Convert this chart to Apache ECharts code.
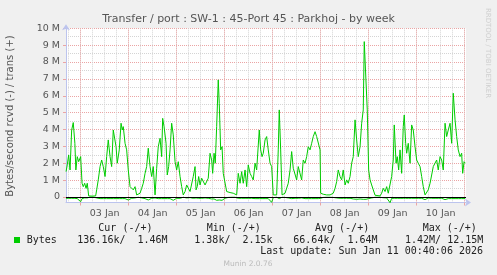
<!DOCTYPE html>
<html><head><meta charset="utf-8">
<script src="https://cdn.jsdelivr.net/npm/echarts@6/dist/echarts.min.js"></script>
<style>html,body{margin:0;padding:0;background:#f0f0f0}#c{width:497px;height:275px}</style>
</head><body><div id="c"></div>
<script>
// x = hours since 03 Jan 00:00, values in M bytes/second
const hours = [-7.3,-6.7,-6.0,-5.3,-4.5,-3.7,-2.9,-2.4,-1.7,-1.0,
0,0.7,1.3,2.0,2.7,3.3,4.0,4.7,5.7,6.7,
7.5,8.0,8.8,9.7,10.5,11.3,12.2,13.0,13.8,14.7,
15.5,16.3,16.8,17.7,18.3,19.3,20.2,20.8,21.3,22.2,
23.0,23.8,24.7,25.5,26.3,27.2,28.0,28.8,29.7,30.5,
31.3,32.2,33.0,33.8,34.7,35.5,36.3,37.2,38.0,38.8,
39.7,40.5,41.0,41.7,42.7,43.3,44.0,44.7,45.5,46.3,
47.2,48.0,48.8,49.7,50.5,51.3,52.2,53.0,53.8,54.7,
55.5,56.3,57.2,57.7,58.3,59.0,59.7,60.5,61.3,62.2,
63.0,63.8,64.7,65.5,66.0,66.7,67.3,68.0,68.8,69.3,
70.0,70.7,71.3,72.2,73.0,73.8,74.7,75.5,76.3,77.2,
78.0,78.8,79.7,80.5,81.3,82.2,83.0,83.8,84.7,85.5,
86.3,87.2,88.0,89.3,90.0,90.7,91.3,92.2,93.0,93.8,
94.7,95.5,96.3,97.2,98.0,98.8,99.3,100.0,100.7,101.3,
102.2,103.0,103.8,104.7,105.5,106.3,107.2,108.0,108.8,109.7,
110.5,111.3,112.2,113.0,113.8,114.7,115.5,116.3,117.2,118.0,
118.8,119.7,120.0,121.3,123.0,124.7,126.3,127.2,128.0,128.8,
129.7,130.5,131.3,132.2,133.0,133.8,134.7,135.5,136.3,137.2,
138.0,138.8,139.7,140.5,141.3,141.8,142.7,143.3,144.0,144.7,
145.5,146.3,147.2,148.0,149.7,150.5,151.3,152.2,153.0,153.8,
154.7,155.5,156.3,156.8,157.7,158.3,159.0,159.7,160.5,161.3,
161.8,162.5,163.0,163.8,164.7,165.5,166.3,167.2,168.0,168.8,
169.7,170.5,171.3,172.2,173.0,173.8,174.7,175.5,176.3,177.2,
178.0,178.8,179.7,180.5,181.3,182.2,183.0,183.8,184.7,185.5,
186.3,187.2,188.0,188.8,189.7,190.5,191.0,191.7,192.3];
const trans = [1.50,1.90,2.49,1.60,3.97,4.41,3.18,1.60,2.39,2.09,
2.39,0.81,0.61,0.81,0.51,0.81,0.06,0.05,0.05,0.05,
0.06,0.42,1.01,1.80,2.19,1.80,1.21,2.39,3.38,2.39,
1.80,3.97,4.07,2.98,2.00,2.79,4.37,3.97,4.17,3.18,
2.79,1.60,0.61,0.51,0.42,0.61,0.12,0.06,0.22,0.51,
0.81,1.40,1.80,2.89,1.80,1.21,1.80,0.12,1.70,2.98,
3.48,2.39,4.66,4.17,3.18,1.30,1.80,2.79,4.37,3.68,
2.09,1.60,2.09,1.21,0.61,0.12,0.32,0.71,0.61,0.32,
0.42,1.21,1.80,0.42,0.61,1.21,0.71,1.11,1.01,0.71,
0.81,1.11,2.59,2.19,1.40,2.59,2.00,4.17,6.94,5.55,
2.79,2.98,1.40,1.40,0.32,0.26,0.26,0.18,0.22,0.18,
0.12,1.40,0.81,1.50,0.81,1.60,0.61,1.90,1.40,1.21,
1.01,2.00,1.60,3.97,2.79,2.39,2.59,3.38,3.58,2.79,
2.00,1.80,0.12,0.10,0.12,2.79,5.16,2.79,0.12,0.12,
0.22,0.26,0.81,1.60,2.69,1.70,1.60,1.01,1.80,1.80,
1.01,2.19,2.00,2.39,2.98,2.79,3.18,3.58,3.87,3.58,
3.68,2.79,0.22,0.16,0.12,0.12,0.22,0.51,0.91,1.60,
1.21,1.01,1.60,0.71,1.01,0.81,1.21,2.00,2.39,4.57,
3.38,2.39,2.98,4.37,5.16,9.21,9.11,5.16,1.60,1.01,
0.71,0.81,0.10,0.06,0.06,0.22,0.51,0.32,0.61,0.22,
0.18,1.21,2.19,4.27,2.00,2.39,1.60,2.79,1.40,4.17,
4.86,3.18,2.59,3.18,2.00,4.27,3.97,2.98,2.19,2.00,
1.80,1.21,0.61,0.12,0.16,0.42,0.81,1.30,1.80,1.90,
2.19,1.60,2.39,2.19,1.60,4.37,3.58,3.97,4.37,3.18,
6.15,4.57,3.58,2.79,2.39,2.59,1.40,2.09,2.00];
const rcvd = [-0.08,-0.10,-0.08,-0.10,-0.08,-0.10,-0.08,-0.08,-0.10,-0.08,
-0.28,-0.10,-0.08,-0.06,-0.08,-0.06,-0.02,-0.01,-0.01,-0.02,
-0.02,-0.06,-0.08,-0.10,-0.08,-0.10,-0.08,-0.10,-0.08,-0.10,
-0.08,-0.10,-0.08,-0.10,-0.08,-0.10,-0.08,-0.10,-0.08,-0.10,
-0.16,-0.18,-0.10,-0.08,-0.08,-0.06,-0.02,-0.02,-0.04,-0.06,
-0.08,-0.10,-0.08,-0.18,-0.10,-0.08,-0.10,-0.06,-0.08,-0.10,
-0.08,-0.10,-0.08,-0.10,-0.08,-0.10,-0.08,-0.10,-0.08,-0.20,
-0.10,-0.08,-0.10,-0.08,-0.06,-0.02,-0.04,-0.06,-0.06,-0.04,
-0.05,-0.08,-0.10,-0.06,-0.06,-0.08,-0.06,-0.08,-0.08,-0.06,
-0.08,-0.08,-0.10,-0.12,-0.10,-0.12,-0.10,-0.20,-0.16,-0.18,
-0.12,-0.20,-0.10,-0.08,-0.04,-0.03,-0.03,-0.02,-0.02,-0.02,
-0.02,-0.08,-0.06,-0.08,-0.06,-0.08,-0.06,-0.08,-0.08,-0.08,
-0.06,-0.10,-0.08,-0.10,-0.08,-0.10,-0.08,-0.10,-0.08,-0.10,
-0.14,-0.32,-0.04,-0.02,-0.02,-0.08,-0.10,-0.08,-0.02,-0.02,
-0.03,-0.03,-0.06,-0.08,-0.10,-0.08,-0.08,-0.06,-0.08,-0.08,
-0.06,-0.08,-0.10,-0.08,-0.10,-0.16,-0.10,-0.08,-0.10,-0.08,
-0.10,-0.20,-0.08,-0.03,-0.02,-0.02,-0.03,-0.05,-0.06,-0.08,
-0.08,-0.06,-0.08,-0.06,-0.08,-0.06,-0.08,-0.14,-0.12,-0.10,
-0.14,-0.10,-0.12,-0.10,-0.14,-0.12,-0.14,-0.16,-0.10,-0.08,
-0.06,-0.06,-0.02,-0.02,-0.02,-0.03,-0.05,-0.04,-0.06,-0.10,
-0.34,-0.08,-0.10,-0.08,-0.10,-0.08,-0.10,-0.08,-0.10,-0.08,
-0.10,-0.08,-0.10,-0.08,-0.10,-0.08,-0.10,-0.08,-0.10,-0.08,
-0.10,-0.08,-0.06,-0.16,-0.18,-0.06,-0.08,-0.08,-0.10,-0.08,
-0.10,-0.08,-0.10,-0.08,-0.10,-0.16,-0.18,-0.10,-0.16,-0.10,
-0.08,-0.10,-0.08,-0.10,-0.08,-0.10,-0.08,-0.10,-0.08];
const dayLabels = ['03 Jan','04 Jan','05 Jan','06 Jan','07 Jan','08 Jan','09 Jan','10 Jan'];
const yLabelValues = [0,1,2,3,4,5,6,7,8,9,10];
const yMinorValues = [0,0.5,1,1.5,2,2.5,3,3.5,4,4.5,5,5.5,6,6.5,7,7.5,8,8.5,9,9.5,10];
const dayStarts = [0,24,48,72,96,120,144,168,192];
const sixHours = [-6,0,6,12,18,24,30,36,42,48,54,60,66,72,78,84,90,96,102,108,114,120,126,132,138,144,150,156,162,168,174,180,186,192];
const dayNoons = [12,36,60,84,108,132,156,180];
const legendHead = ['Cur (-/+)','Min (-/+)','Avg (-/+)','Max (-/+)'];
const legendVals = ['136.16k/  1.46M','1.38k/  2.15k','66.64k/  1.64M','1.42M/ 12.15M'];

const X_MIN = -7.33, X_MAX = 192.67, Y_MIN = -0.33, Y_MAX = 10;
const AXIS_C = '#bcc4ee', MINOR_C = '#d4d4d4', MAJOR_C = '#eba4a4', TXT = '#555';
const mono = '10px "DejaVu Sans Mono"';

const chart = echarts.init(document.getElementById('c'), null, {renderer:'canvas'});
const headX = [98.3, 206.7, 315, 422.7];
const valX = [77.3, 194.3, 293.3, 405];
const graphics = [
  {type:'text', x:248.5, y:19, style:{text:'Transfer / port : SW-1 : 45-Port 45 : Parkhoj - by week', font:'11px "DejaVu Sans"', fill:TXT, align:'center', verticalAlign:'middle'}},
  {type:'text', x:10, y:116, rotation:Math.PI/2, style:{text:'Bytes/second rcvd (-) / trans (+)', font:'10px "DejaVu Sans"', fill:TXT, align:'center', verticalAlign:'middle'}},
  {type:'text', x:488, y:53, rotation:-Math.PI/2, style:{text:'RRDTOOL / TOBI OETIKER', font:'7px "DejaVu Sans"', fill:'#cfcfcf', align:'center', verticalAlign:'middle'}},
  {type:'rect', shape:{x:14, y:237, width:6, height:6}, style:{fill:'#00cc00'}},
  {type:'text', x:26.7, y:240, style:{text:'Bytes', font:mono, fill:'#222', verticalAlign:'middle'}},
  {type:'text', x:483, y:251.5, style:{text:'Last update: Sun Jan 11 00:40:06 2026', font:mono, fill:'#222', align:'right', verticalAlign:'middle'}},
  {type:'text', x:248, y:264.5, style:{text:'Munin 2.0.76', font:'7.5px "DejaVu Sans"', fill:'#bbb', align:'center', verticalAlign:'middle'}}
];
legendHead.forEach((t,i)=>graphics.push({type:'text', x:headX[i], y:228, style:{text:t, font:mono, fill:'#222', verticalAlign:'middle'}}));
legendVals.forEach((t,i)=>graphics.push({type:'text', x:valX[i], y:240, style:{text:t, font:mono, fill:'#222', verticalAlign:'middle'}}));

const option = {
  animation:false,
  backgroundColor:'#f0f0f0',
  grid:{left:66, right:31, top:28.3, bottom:72.5, show:true, backgroundColor:'#ffffff', borderWidth:0, containLabel:false},
  xAxis:[
    {type:'value', min:X_MIN, max:X_MAX,
     axisLine:{show:true, onZero:false, lineStyle:{color:AXIS_C, width:1}, symbol:['none','arrow'], symbolSize:[6,6], symbolOffset:[0,5]},
     axisTick:{show:false, customValues:sixHours},
     axisLabel:{show:true, customValues:dayNoons, formatter:v=>dayLabels[dayNoons.indexOf(v)]||'', color:TXT, fontFamily:'DejaVu Sans', fontSize:9.5, margin:6},
     splitLine:{show:true, lineStyle:{color:MINOR_C, type:[1,1], width:1}}},
    {type:'value', min:X_MIN, max:X_MAX, position:'bottom',
     axisLine:{show:false, onZero:false},
     axisTick:{show:true, customValues:dayStarts, length:3, inside:false, lineStyle:{color:MAJOR_C}},
     axisLabel:{show:false},
     splitLine:{show:true, lineStyle:{color:MAJOR_C, type:[1,1], width:1}}}
  ],
  yAxis:[
    {type:'value', min:Y_MIN, max:Y_MAX, position:'left',
     axisLine:{show:true, onZero:false, lineStyle:{color:AXIS_C, width:1}, symbol:['none','arrow'], symbolSize:[6,6], symbolOffset:[0,4]},
     axisTick:{show:false, customValues:yMinorValues},
     axisLabel:{show:false},
     splitLine:{show:true, lineStyle:{color:MINOR_C, type:[1,1], width:1}}},
    {type:'value', min:Y_MIN, max:Y_MAX, position:'left',
     axisLine:{show:false, onZero:false},
     axisTick:{show:true, customValues:yLabelValues, length:3, lineStyle:{color:MAJOR_C}},
     axisLabel:{show:true, customValues:yLabelValues, formatter:v=>v===0?'0':v+' M', color:TXT, fontFamily:'DejaVu Sans', fontSize:9.5, margin:6},
     splitLine:{show:true, lineStyle:{color:MAJOR_C, type:[1,1], width:1}}}
  ],
  series:[
    {name:'rcvd', type:'line', xAxisIndex:0, yAxisIndex:0, showSymbol:false, symbol:'none',
     data:hours.map((h,i)=>[h,rcvd[i]]), lineStyle:{color:'#00cc00', width:1}, itemStyle:{color:'#00cc00'}},
    {name:'trans', type:'line', xAxisIndex:0, yAxisIndex:0, showSymbol:false, symbol:'none',
     data:hours.map((h,i)=>[h,trans[i]]), lineStyle:{color:'#00cc00', width:1}, itemStyle:{color:'#00cc00'},
     markLine:{silent:true, symbol:'none', label:{show:false}, lineStyle:{color:'#000', type:'solid', width:1}, data:[{yAxis:0}]}}
  ],
  graphic:graphics
};
chart.setOption(option);
</script></body></html>
